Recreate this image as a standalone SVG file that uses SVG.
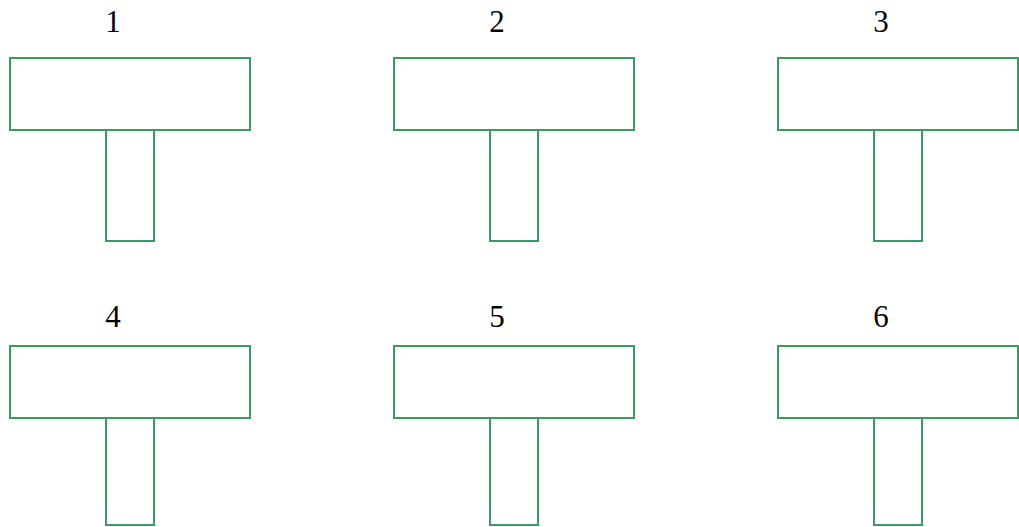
<svg xmlns="http://www.w3.org/2000/svg" width="1019" height="527" viewBox="0 0 1019 527">
<style>
.s{fill:none;stroke:#3a9a62;stroke-width:2}
.t{font-family:"Liberation Serif",serif;font-size:31px;fill:#000;text-anchor:middle}
</style>
<rect width="1019" height="527" fill="#fff"/>
<defs>
<g id="T"><rect class="s" x="0" y="0" width="240" height="72"/><rect class="s" x="96" y="72" width="48" height="111"/></g>
<g id="T2"><rect class="s" x="0" y="0" width="240" height="72"/><rect class="s" x="96" y="72" width="48" height="107"/></g>
</defs>
<g id="n1"><use href="#T" x="10" y="58"/><text class="t" x="113" y="32">1</text></g>
<g id="n2"><use href="#T" x="394" y="58"/><text class="t" x="497" y="32">2</text></g>
<g id="n3"><use href="#T" x="778" y="58"/><text class="t" x="881" y="32">3</text></g>
<g id="n4"><use href="#T2" x="10" y="346"/><text class="t" x="113" y="327">4</text></g>
<g id="n5"><use href="#T2" x="394" y="346"/><text class="t" x="497" y="327">5</text></g>
<g id="n6"><use href="#T2" x="778" y="346"/><text class="t" x="881" y="327">6</text></g>
<g id="connectors"></g>
</svg>
